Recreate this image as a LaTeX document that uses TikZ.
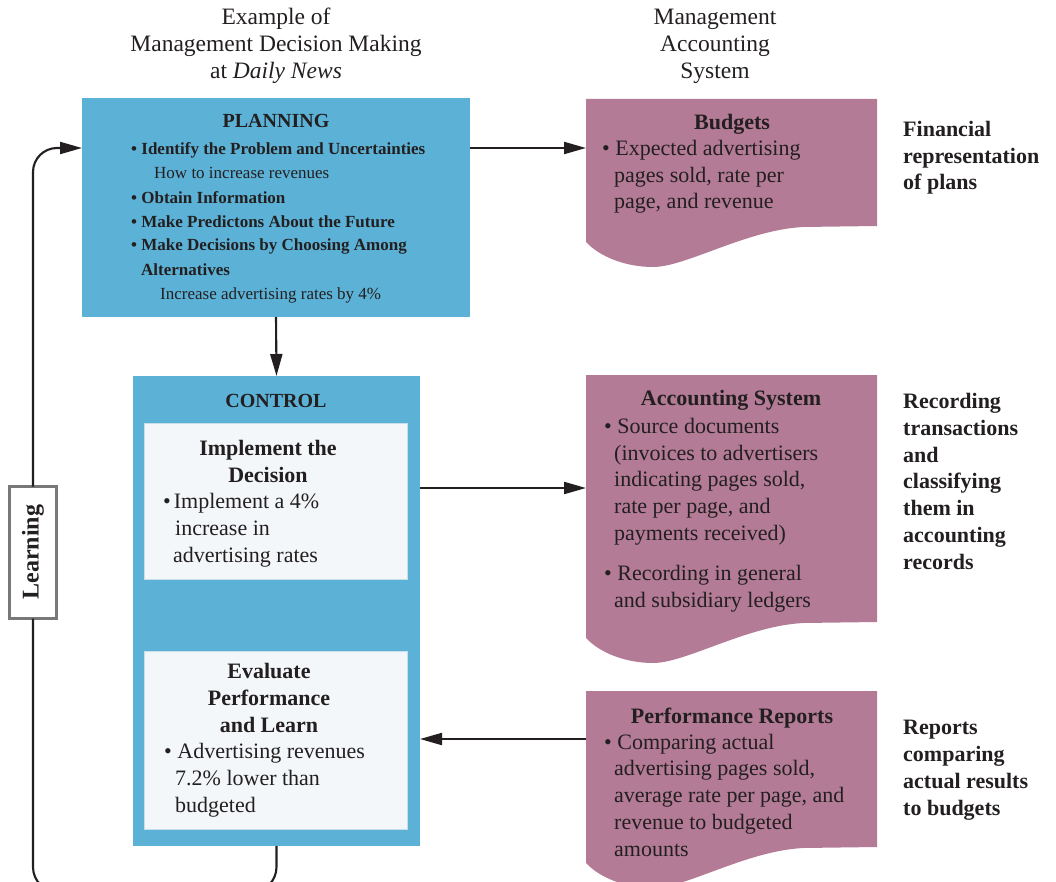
\documentclass[tikz,border=0pt]{standalone}
\usepackage{fontspec}
\setmainfont{Liberation Serif}
\usetikzlibrary{calc,arrows.meta}
\definecolor{bluebox}{RGB}{92,178,214}
\definecolor{mauve}{RGB}{179,123,149}
\definecolor{ink}{RGB}{35,31,32}
\definecolor{panel}{RGB}{244,247,249}
\definecolor{panelline}{RGB}{200,222,235}
\definecolor{learngray}{RGB}{120,120,120}
\newcommand\bodyfont{\fontsize{22}{26.7}\selectfont}
\newcommand\docfill[1]{%
  \fill[mauve] (#1.north west) -- (#1.north east) -- (#1.south east)
    -- ($(#1.south east)+(-74,1)$)
    .. controls ($(#1.south west)+(160,4)$) and ($(#1.south west)+(100,41)$) .. ($(#1.south west)+(67,41)$)
    .. controls ($(#1.south west)+(40,41)$) and ($(#1.south west)+(14,31)$) .. ($(#1.south west)+(0,16)$)
    -- cycle;}
\tikzset{
  area/.style={inner sep=0pt, outer sep=0pt, draw=none},
  bluearea/.style={area, fill=bluebox},
  panelbox/.style={inner sep=0pt, outer sep=0pt, fill=panel, draw=panelline, line width=1pt},
  txt/.style={inner sep=0pt, anchor=base west, align=left, text=ink, font=\bodyfont},
  ctxt/.style={inner sep=0pt, anchor=base, align=center, text=ink, font=\bodyfont\bfseries},
  side/.style={inner sep=0pt, anchor=base west, align=left, text=ink, font=\bodyfont\bfseries},
  conn/.style={draw=ink, line width=2.1pt},
  arr/.style={conn, -{Triangle[length=22pt,width=12pt]}},
}
\begin{document}
\begin{tikzpicture}[x=1pt,y=-1pt]
\useasboundingbox (0,0) rectangle (1056,882);
\clip (0,0) rectangle (1056,882);
% headers (base = last line)
\node[inner sep=0pt, anchor=base, align=center, text=ink, font=\fontsize{23.5}{27}\selectfont] (h1) at (276,79)
  {Example of\\Management Decision Making\\at \textit{Daily News}};
\node[inner sep=0pt, anchor=base, align=center, text=ink, font=\fontsize{23.5}{27}\selectfont] (h2) at (715,79)
  {Management\\Accounting\\System};
% planning
\node[bluearea, minimum width=388pt, minimum height=219pt] (planning) at (276,207.5) {};
\node[inner sep=0pt, anchor=base, text=ink, font=\fontsize{20}{24}\selectfont\bfseries] (plantitle) at (276,128) {PLANNING};
\node[inner sep=0pt, anchor=base west, align=left, text=ink, font=\fontsize{17}{24}\selectfont\bfseries] (plantext) at (131,299)
  {\textbullet\ Identify the Problem and Uncertainties\\
   \hspace*{23pt}{\mdseries How to increase revenues}\\
   \textbullet\ Obtain Information\\
   \textbullet\ Make Predictons About the Future\\
   \textbullet\ Make Decisions by Choosing Among\\
   \hspace*{10pt}Alternatives\\
   \hspace*{29pt}{\mdseries Increase advertising rates by 4\%}};
% control
\node[bluearea, minimum width=287pt, minimum height=470pt] (control) at (276.5,611) {};
\node[inner sep=0pt, anchor=base, text=ink, font=\fontsize{20}{24}\selectfont\bfseries] (ctrltitle) at (276,407) {CONTROL};
\node[panelbox, minimum width=263pt, minimum height=156pt] (impl) at (275.5,501) {};
\node[ctxt] (impltitle) at (268,482) {Implement the\\Decision};
\node[txt] (impltext) at (163,562)
  {\textbullet\hspace{3pt}Implement a 4\%\\
   \hspace*{12pt}increase in\\
   \hspace*{10pt}advertising rates};
\node[panelbox, minimum width=263pt, minimum height=178pt] (eval) at (275.5,740) {};
\node[ctxt] (evaltitle) at (269,732) {Evaluate\\Performance\\and Learn};
\node[txt] (evaltext) at (164,812)
  {\textbullet\ Advertising revenues\\
   \hspace*{11pt}7.2\% lower than\\
   \hspace*{11pt}budgeted};
% documents
\node[area, minimum width=291pt, minimum height=127pt] (budget) at (731.5,162.5) {};
\docfill{budget}
\node[ctxt] (budtitle) at (732,130) {Budgets};
\node[txt] (budtext) at (602,209)
  {\textbullet\ Expected advertising\\
   \hspace*{12pt}pages sold, rate per\\
   \hspace*{12pt}page, and revenue};
\node[area, minimum width=291pt, minimum height=247pt] (acct) at (731.5,498.5) {};
\docfill{acct}
\node[ctxt] (accttitle) at (731,405) {Accounting System};
\node[txt] (accttext) at (604,607)
  {\textbullet\ Source documents\\
   \hspace*{10pt}(invoices to advertisers\\
   \hspace*{10pt}indicating pages sold,\\
   \hspace*{10pt}rate per page, and\\
   \hspace*{10pt}payments received)\\[13.4pt]
   \textbullet\ Recording in general\\
   \hspace*{10pt}and subsidiary ledgers};
\node[area, minimum width=291pt, minimum height=156pt] (perf) at (731.5,769) {};
\docfill{perf}
\node[ctxt] (perftitle) at (732,723) {Performance Reports};
\node[txt] (perftext) at (604,856)
  {\textbullet\ Comparing actual\\
   \hspace*{10pt}advertising pages sold,\\
   \hspace*{10pt}average rate per page, and\\
   \hspace*{10pt}revenue to budgeted\\
   \hspace*{10pt}amounts};
% side labels
\node[side] (s1) at (903,190) {Financial\\representation\\of plans};
\node[side] (s2) at (903,569) {Recording\\transactions\\and\\classifying\\them in\\accounting\\records};
\node[side] (s3) at (903,815) {Reports\\comparing\\actual results\\to budgets};
% learning
\node[inner sep=0pt, outer sep=0pt, fill=white, draw=learngray, line width=2.5pt, minimum width=47pt, minimum height=132pt] (learn) at (33,552.5) {};
\node[inner sep=0pt, rotate=90, text=ink, font=\fontsize{24}{24}\selectfont\bfseries] (learntext) at (33,552) {Learning};
% connectors
\draw[arr] ($(planning.north east)+(0,50)$) coordinate (p1) -- (p1 -| budget.west);
\draw[arr] (planning.south) -- (control.north);
\draw[arr] ($(control.north east)+(0,112)$) coordinate (c1) -- (c1 -| acct.west);
\draw[arr] ($(perf.north west)+(0,48)$) coordinate (r1) -- (r1 -| control.east);
\draw[conn, rounded corners=25pt] (control.south) -- ++(0,46) -| (learn.south);
\draw[arr, rounded corners=24pt] (learn.north) |- (p1 -| planning.west);
\end{tikzpicture}
\end{document}
